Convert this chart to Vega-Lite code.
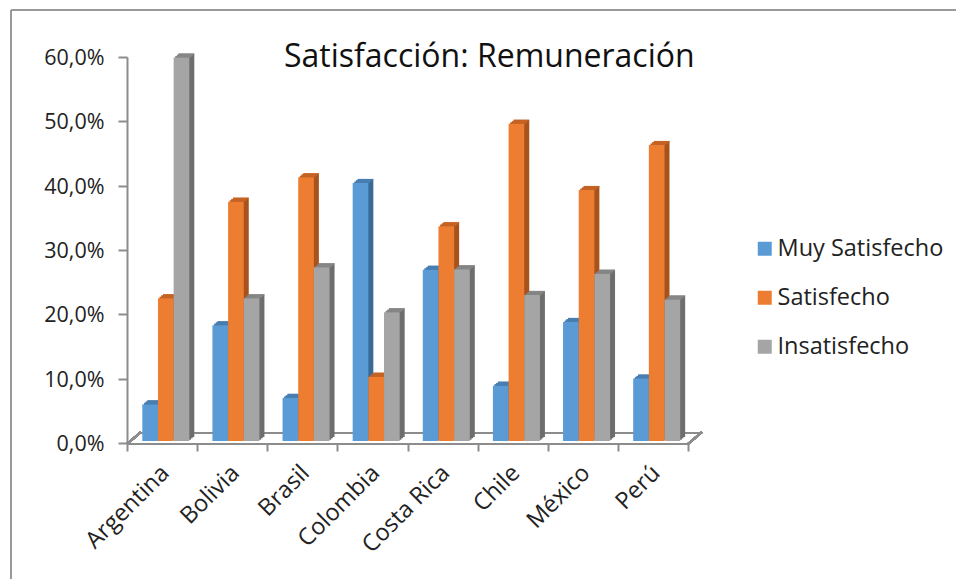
{"$schema":"https://vega.github.io/schema/vega-lite/v6.json","width":561,"height":386,"padding":{"left":127,"top":57,"right":268,"bottom":136},"autosize":{"type":"none"},"background":"white","config":{"view":{"stroke":null},"font":"Open Sans"},"title":{"text":"Satisfacción: Remuneración","orient":"top","anchor":"start","offset":-65,"dx":274,"fontSize":32,"fontWeight":"normal","font":"Open Sans","color":"#111111"},"data":{"values":[{"pais":"Argentina","serie":"Muy Satisfecho","valor":5.7},{"pais":"Argentina","serie":"Satisfecho","valor":22.2},{"pais":"Argentina","serie":"Insatisfecho","valor":59.6},{"pais":"Bolivia","serie":"Muy Satisfecho","valor":18},{"pais":"Bolivia","serie":"Satisfecho","valor":37.2},{"pais":"Bolivia","serie":"Insatisfecho","valor":22.2},{"pais":"Brasil","serie":"Muy Satisfecho","valor":6.7},{"pais":"Brasil","serie":"Satisfecho","valor":41},{"pais":"Brasil","serie":"Insatisfecho","valor":27},{"pais":"Colombia","serie":"Muy Satisfecho","valor":40.1},{"pais":"Colombia","serie":"Satisfecho","valor":10},{"pais":"Colombia","serie":"Insatisfecho","valor":20},{"pais":"Costa Rica","serie":"Muy Satisfecho","valor":26.6},{"pais":"Costa Rica","serie":"Satisfecho","valor":33.4},{"pais":"Costa Rica","serie":"Insatisfecho","valor":26.7},{"pais":"Chile","serie":"Muy Satisfecho","valor":8.6},{"pais":"Chile","serie":"Satisfecho","valor":49.3},{"pais":"Chile","serie":"Insatisfecho","valor":22.7},{"pais":"México","serie":"Muy Satisfecho","valor":18.5},{"pais":"México","serie":"Satisfecho","valor":39},{"pais":"México","serie":"Insatisfecho","valor":26},{"pais":"Perú","serie":"Muy Satisfecho","valor":9.7},{"pais":"Perú","serie":"Satisfecho","valor":46},{"pais":"Perú","serie":"Insatisfecho","valor":22}]},"encoding":{"x":{"field":"pais","type":"nominal","sort":null,"scale":{"padding":0},"axis":{"title":null,"labelAngle":-45,"labelAlign":"right","labelBaseline":"middle","labelFontSize":23.5,"labelColor":"#222222","labelPadding":18,"labelOffset":3,"tickColor":"#8c8c8c","tickWidth":2,"tickSize":8,"domain":false,"tickBand":"extent"}},"y":{"field":"valor","type":"quantitative","scale":{"domain":[0,60]},"axis":{"title":null,"values":[0,10,20,30,40,50,60],"labelExpr":"replace(format(datum.value,'.1f'),'.',',')+'%'","labelFontSize":21.5,"labelColor":"#222222","labelPadding":14,"labelOffset":1.5,"tickColor":"#8c8c8c","tickWidth":2,"tickSize":9,"domainColor":"#8c8c8c","domainWidth":2,"grid":false}}},"layer":[{"mark":{"type":"rule","color":"#8c8c8c","strokeWidth":2,"yOffset":1},"encoding":{"x":{"value":0},"x2":{"value":561},"y":{"datum":0}}},{"mark":{"type":"rule","color":"#8c8c8c","strokeWidth":2,"yOffset":-10},"encoding":{"x":{"value":14},"x2":{"value":575},"y":{"datum":0}}},{"mark":{"type":"rule","color":"#8c8c8c","strokeWidth":2,"yOffset":1},"encoding":{"x":{"value":0},"x2":{"value":14},"y":{"datum":0},"y2":{"datum":1.7}}},{"mark":{"type":"rule","color":"#8c8c8c","strokeWidth":2,"yOffset":1},"encoding":{"x":{"value":561},"x2":{"value":575},"y":{"datum":0},"y2":{"datum":1.7}}},{"mark":{"type":"rule","color":"#999999","strokeWidth":2},"encoding":{"x":{"value":-116},"x2":{"value":829},"y":{"value":-47}}},{"mark":{"type":"rule","color":"#999999","strokeWidth":2},"encoding":{"x":{"value":-116},"y":{"value":-47},"y2":{"value":522}}},{"mark":{"type":"bar","yOffset":-6},"encoding":{"xOffset":{"field":"serie","sort":["Muy Satisfecho","Satisfecho","Insatisfecho"],"scale":{"padding":0,"range":[20.3,67.3]}},"color":{"field":"serie","scale":{"domain":["Muy Satisfecho","Satisfecho","Insatisfecho"],"range":["#3A6A96","#A8531C","#6E6E6E"]},"legend":null}}},{"mark":{"type":"bar","yOffset":-4.7},"encoding":{"xOffset":{"field":"serie","sort":["Muy Satisfecho","Satisfecho","Insatisfecho"],"scale":{"padding":0,"range":[18.6,65.6]}},"color":{"field":"serie","scale":{"domain":["Muy Satisfecho","Satisfecho","Insatisfecho"],"range":["#3A6A96","#A8531C","#6E6E6E"]},"legend":null}}},{"mark":{"type":"bar","yOffset":-3.3},"encoding":{"xOffset":{"field":"serie","sort":["Muy Satisfecho","Satisfecho","Insatisfecho"],"scale":{"padding":0,"range":[17,64]}},"color":{"field":"serie","scale":{"domain":["Muy Satisfecho","Satisfecho","Insatisfecho"],"range":["#3A6A96","#A8531C","#6E6E6E"]},"legend":null}}},{"mark":{"type":"tick","orient":"horizontal","size":15.67,"thickness":1.6,"yOffset":-5.4},"encoding":{"xOffset":{"field":"serie","sort":["Muy Satisfecho","Satisfecho","Insatisfecho"],"scale":{"padding":0,"range":[20.3,67.3]}},"color":{"field":"serie","scale":{"domain":["Muy Satisfecho","Satisfecho","Insatisfecho"],"range":["#4F86BA","#D06A28","#8E8E8E"]},"legend":null}}},{"mark":{"type":"tick","orient":"horizontal","size":15.67,"thickness":1.6,"yOffset":-4.1},"encoding":{"xOffset":{"field":"serie","sort":["Muy Satisfecho","Satisfecho","Insatisfecho"],"scale":{"padding":0,"range":[18.6,65.6]}},"color":{"field":"serie","scale":{"domain":["Muy Satisfecho","Satisfecho","Insatisfecho"],"range":["#4F86BA","#D06A28","#8E8E8E"]},"legend":null}}},{"mark":{"type":"tick","orient":"horizontal","size":15.67,"thickness":1.6,"yOffset":-2.8},"encoding":{"xOffset":{"field":"serie","sort":["Muy Satisfecho","Satisfecho","Insatisfecho"],"scale":{"padding":0,"range":[17,64]}},"color":{"field":"serie","scale":{"domain":["Muy Satisfecho","Satisfecho","Insatisfecho"],"range":["#4F86BA","#D06A28","#8E8E8E"]},"legend":null}}},{"mark":{"type":"bar","yOffset":-2},"encoding":{"xOffset":{"field":"serie","sort":["Muy Satisfecho","Satisfecho","Insatisfecho"],"scale":{"padding":0,"range":[15.3,62.3]}},"color":{"field":"serie","scale":{"domain":["Muy Satisfecho","Satisfecho","Insatisfecho"],"range":["#5B9BD5","#ED7D31","#A5A5A5"]},"legend":{"title":null,"orient":"none","legendX":626,"legendY":180,"symbolType":"square","symbolSize":196,"symbolStrokeWidth":0,"labelFontSize":23.5,"labelLimit":250,"labelColor":"#222222","rowPadding":24,"labelOffset":1}}}}],"resolve":{"scale":{"color":"independent","xOffset":"independent"}}}
